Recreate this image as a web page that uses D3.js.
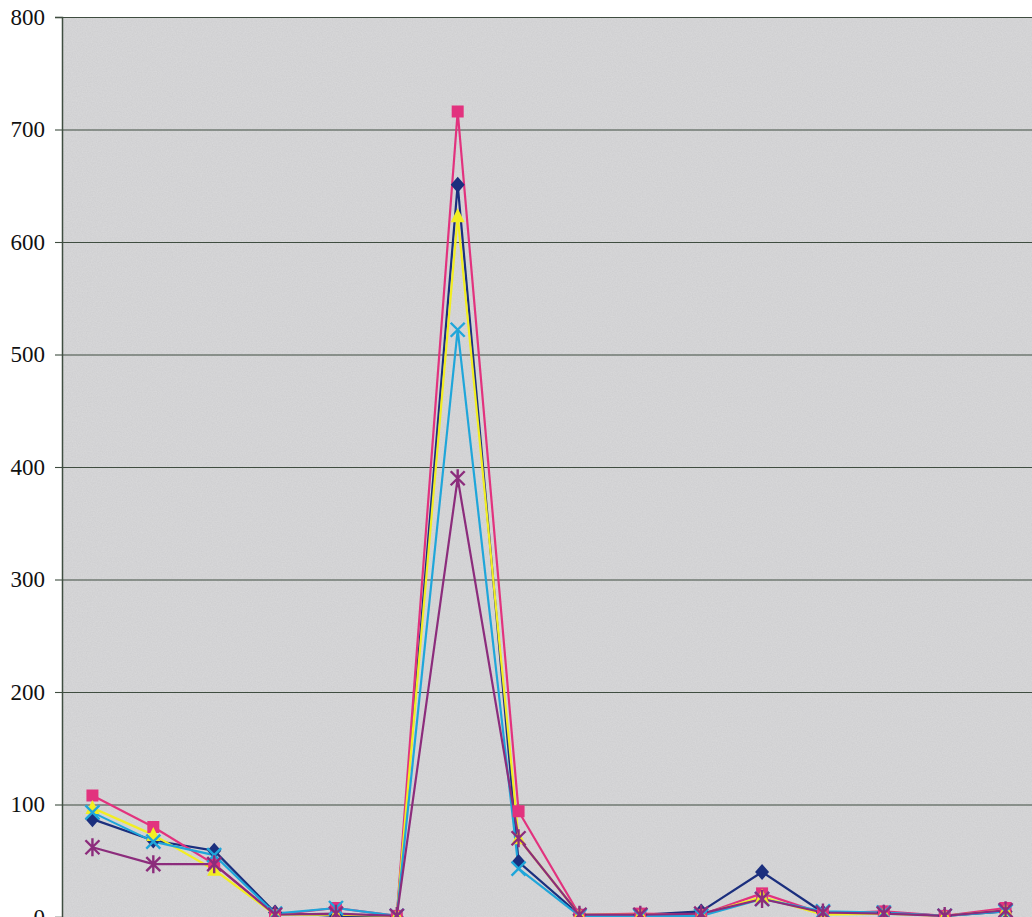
<!DOCTYPE html>
<html>
<head>
<meta charset="utf-8">
<script src="https://cdn.jsdelivr.net/npm/d3@7"></script>
<style>
  body { margin: 0; background: #fff; }
  svg { display: block; }
</style>
</head>
<body>
<div id="chart"></div>
<script>
// categories along x (no labels visible in the picture)
var categories = ["1", "2", "3", "4", "5", "6", "7", "8", "9", "10", "11", "12", "13", "14", "15", "16"];
var yTicks = [0, 100, 200, 300, 400, 500, 600, 700, 800];

var navyValues   = [87, 68, 59, 4, 1, 0, 651, 49, 2, 2, 5, 40, 4, 4, 1, 5];
var pinkValues   = [108, 80, 47, 2, 8, 1, 716, 94, 2, 3, 2, 21, 3, 5, 1, 8];
var yellowValues = [97, 73, 42, 2, 2, 1, 623, 70, 2, 2, 2, 18, 2, 3, 1, 6];
var cyanValues   = [93, 67, 55, 3, 8, 1, 522, 43, 1, 1, 1, 16, 5, 4, 1, 5];
var purpleValues = [62, 47, 47, 2, 3, 1, 390, 70, 2, 2, 3, 16, 4, 3, 1, 6];

var series = [
  { name: "navy", values: navyValues, color: "#1b2f7e", marker: "diamond" },
  { name: "pink", values: pinkValues, color: "#e2327e", marker: "square" },
  { name: "yellow", values: yellowValues, color: "#f2ee22", marker: "triangle" },
  { name: "cyan", values: cyanValues, color: "#1fa6da", marker: "cross" },
  { name: "purple", values: purpleValues, color: "#8c2c7c", marker: "star" }
];

var width = 1032, height = 917;
var margin = { top: 17, left: 62 };
var plot_right = 1036, plot_bottom = 917;

var svg = d3.select("#chart").append("svg").attr("width", width).attr("height", height);

// scanned grey paper look
var defs = svg.append("defs");
var filt = defs.append("filter").attr("id", "grain").attr("x", 0).attr("y", 0).attr("width", "100%").attr("height", "100%");
filt.append("feTurbulence").attr("type", "fractalNoise").attr("baseFrequency", 0.8).attr("numOctaves", 2).attr("seed", 3);
filt.append("feColorMatrix").attr("type", "matrix")
  .attr("values", "0 0 0 0 1  0 0 0 0 1  0 0 0 0 1  0 0 0 0.25 0");

var xScale = d3.scaleBand().domain(categories).range([margin.left, plot_right]);
var yScale = d3.scaleLinear().domain([0, 800]).range([plot_bottom, margin.top]);
var cx = (d) => xScale(d) + xScale.bandwidth() / 2;

svg.append("rect").attr("x", margin.left).attr("y", margin.top)
  .attr("width", plot_right - margin.left).attr("height", plot_bottom - margin.top)
  .attr("fill", "#cdcdcf");
svg.append("rect").attr("x", margin.left).attr("y", margin.top)
  .attr("width", plot_right - margin.left).attr("height", plot_bottom - margin.top)
  .attr("filter", "url(#grain)");

// gridlines
svg.selectAll(".grid").data(yTicks.filter((t) => t > 0)).join("line").attr("class", "grid")
  .attr("x1", margin.left).attr("x2", plot_right)
  .attr("y1", (d) => yScale(d) + 0.5).attr("y2", (d) => yScale(d) + 0.5)
  .attr("stroke", "#3f4d40").attr("stroke-width", 1.1);

// y axis
var yAxis = d3.axisLeft(yScale).tickValues(yTicks).tickSize(7).tickPadding(10);
var gy = svg.append("g").attr("transform", "translate(" + margin.left + ",0)").call(yAxis);
gy.select(".domain").attr("stroke", "#3f4d40").attr("stroke-width", 1.5);
gy.selectAll(".tick line").attr("stroke", "#3f4d40").attr("stroke-width", 1.1);
gy.selectAll(".tick text").attr("font-family", "Liberation Serif, Times New Roman, serif")
  .attr("font-size", 23).attr("fill", "#111");

// lines
var line = d3.line().x((d, i) => cx(categories[i])).y((d) => yScale(d));
series.forEach((s) => {
  svg.append("path").datum(s.values).attr("d", line)
    .attr("fill", "none").attr("stroke", s.color).attr("stroke-width", 2.2).attr("stroke-linejoin", "round");
});

// markers
series.forEach((s) => {
  var g = svg.append("g").selectAll("g").data(s.values).join("g")
    .attr("transform", (d, i) => "translate(" + cx(categories[i]) + "," + yScale(d) + ")");
  if (s.marker == "diamond") {
    g.append("path").attr("d", "M0,-8L7,0L0,8L-7,0Z").attr("fill", s.color);
  } else if (s.marker == "square") {
    g.append("rect").attr("x", -6).attr("y", -6).attr("width", 12).attr("height", 12).attr("fill", s.color);
  } else if (s.marker == "triangle") {
    g.append("path").attr("d", "M0,-8L7,6L-7,6Z").attr("fill", s.color);
  } else if (s.marker == "cross") {
    g.append("path").attr("d", "M-7,-7L7,7M7,-7L-7,7").attr("stroke", s.color).attr("stroke-width", 2.4);
  } else {
    g.append("path").attr("d", "M-7,-7L7,7M7,-7L-7,7M0,-9L0,9").attr("stroke", s.color).attr("stroke-width", 2.4);
  }
});
</script>
</body>
</html>
